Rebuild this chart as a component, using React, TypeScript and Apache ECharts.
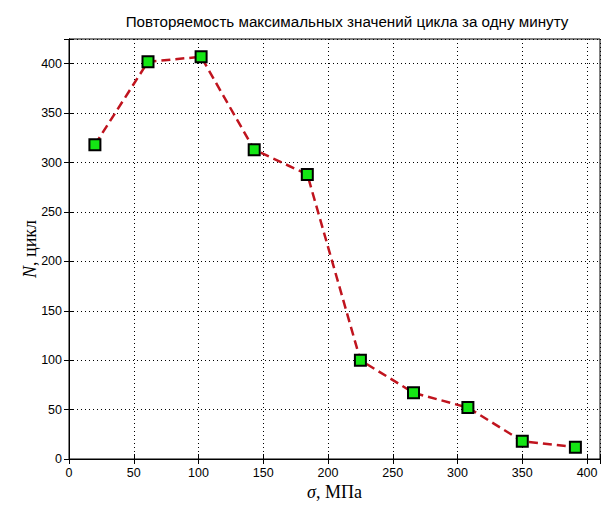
import React, { useEffect, useRef } from "react";
import * as echarts from "echarts";

// Stress amplitude (MPa) and number of cycles per minute
const sigma = [20, 61, 102, 143, 184, 225, 266, 308, 350, 391];
const cycles = [318, 402, 407, 313, 288, 100, 67, 52, 18, 12];

const xTicks = [0, 50, 100, 150, 200, 250, 300, 350, 400];
const yTicks = [0, 50, 100, 150, 200, 250, 300, 350, 400];

const titleText = "Повторяемость максимальных значений цикла за одну минуту";

export default function App() {
  const ref = useRef<HTMLDivElement>(null);

  useEffect(() => {
    if (!ref.current) return;
    const chart = echarts.init(ref.current, null, { renderer: "svg" });

    const tickFont = { fontFamily: "Liberation Sans", fontSize: 12.5, color: "#000" };
    const dotted = { show: true, lineStyle: { color: "#000", width: 1, type: [1, 3] as any } };
    const xLabel = (v: number) => (xTicks.includes(v) ? String(v) : "");
    const yLabel = (v: number) => (yTicks.includes(v) ? String(v) : "");

    chart.setOption({
      animation: false,
      backgroundColor: "#fff",
      title: {
        text: titleText,
        left: 342,
        textAlign: "center",
        top: 9,
        textStyle: {
          fontFamily: "Liberation Sans",
          fontSize: 15.2,
          fontWeight: "normal",
          color: "#000",
        },
      },
      grid: {
        left: 69,
        top: 39,
        right: 2,
        bottom: 51,
        show: true,
        borderColor: "#000",
        borderWidth: 1,
        backgroundColor: "transparent",
      },
      xAxis: [
        {
          type: "value",
          min: 0,
          max: 410,
          interval: 50,
          position: "bottom",
          axisLine: { show: true, lineStyle: { color: "#000", width: 1 } },
          axisTick: { show: true, inside: true, length: 5, lineStyle: { color: "#000" } },
          axisLabel: { ...tickFont, margin: 7, formatter: xLabel },
          splitLine: dotted,
          name: "{i|σ}, МПа",
          nameLocation: "middle",
          nameGap: 24,
          nameMoveOverlap: false,
          nameTextStyle: {
            fontFamily: "Liberation Serif",
            fontSize: 18,
            color: "#000",
            rich: {
              i: { fontFamily: "Liberation Serif", fontSize: 18, fontStyle: "italic", color: "#000" },
            },
          },
        },
        {
          type: "value",
          min: 0,
          max: 410,
          interval: 50,
          position: "top",
          axisLine: { show: true, lineStyle: { color: "#000", width: 1 } },
          axisTick: { show: true, inside: true, length: 5, lineStyle: { color: "#000" } },
          axisLabel: { show: false },
          splitLine: { show: false },
        },
      ],
      yAxis: [
        {
          type: "value",
          min: 0,
          max: 425,
          interval: 50,
          position: "left",
          axisLine: { show: true, lineStyle: { color: "#000", width: 1 } },
          axisTick: { show: true, inside: true, length: 5, lineStyle: { color: "#000" } },
          axisLabel: { ...tickFont, margin: 7, formatter: yLabel },
          splitLine: dotted,
          name: "{i|N}, цикл",
          nameLocation: "middle",
          nameRotate: 90,
          nameGap: 30,
          nameMoveOverlap: false,
          nameTextStyle: {
            fontFamily: "Liberation Serif",
            fontSize: 18,
            color: "#000",
            rich: {
              i: { fontFamily: "Liberation Serif", fontSize: 18, fontStyle: "italic", color: "#000" },
            },
          },
        },
        {
          type: "value",
          min: 0,
          max: 425,
          interval: 50,
          position: "right",
          axisLine: { show: true, lineStyle: { color: "#000", width: 1 } },
          axisTick: { show: true, inside: true, length: 5, lineStyle: { color: "#000" } },
          axisLabel: { show: false },
          splitLine: { show: false },
        },
      ],
      series: [
        {
          type: "line",
          xAxisIndex: 0,
          yAxisIndex: 0,
          data: sigma.map((s, i) => [s, cycles[i]]),
          symbol: "rect",
          symbolSize: 11,
          itemStyle: { color: "#14e614", borderColor: "#000", borderWidth: 2 },
          lineStyle: { color: "#c0141e", width: 2.5, type: [9, 5] },
          z: 3,
        },
      ],
    });

    return () => chart.dispose();
  }, []);

  return (
    <div
      ref={ref}
      style={{ position: "fixed", left: 0, top: 0, width: 603, height: 510, background: "#fff" }}
    />
  );
}
